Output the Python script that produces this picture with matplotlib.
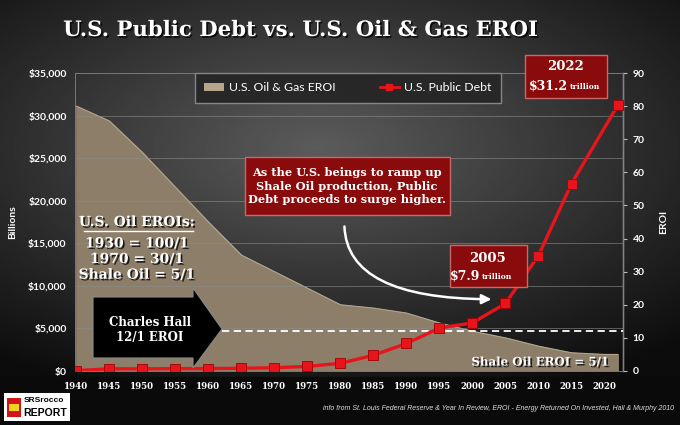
import numpy as np
import matplotlib.pyplot as plt
import matplotlib.patheffects as pe
from matplotlib.patches import Rectangle, Polygon, Patch
from matplotlib.lines import Line2D

# -----------------------------
# DATA
# -----------------------------

debt_years = [1940, 1945, 1950, 1955, 1960, 1965, 1970, 1975, 1980,
              1985, 1990, 1995, 2000, 2005, 2010, 2015, 2022]
debt_billions = [51, 260, 257, 274, 290, 322, 381, 542, 908,
                 1850, 3230, 5050, 5650, 7930, 13560, 22000, 31200]

eroi_years = [1940, 1945, 1950, 1955, 1960, 1965, 1970, 1975, 1980,
              1985, 1990, 1995, 2000, 2005, 2010, 2015, 2020, 2022]
eroi_values = [80, 75.5, 66, 55.5, 45, 35, 30, 25, 20,
               19, 17.5, 14.5, 12, 10, 7.5, 5.5, 5, 5]

hall_eroi = 12
x_ticks = list(range(1940, 2021, 5))
left_ticks = list(range(0, 35001, 5000))
right_ticks = list(range(0, 91, 10))

# -----------------------------
# STYLE
# -----------------------------

RED = "#e8141c"
TAN = "#8d7e6a"
BOX_RED = "#8a0b0b"
SLAB = "DejaVu Serif"
SANS = "Lato"

W, H = 680, 425


def px(x, y):
    # pixel position -> figure fraction
    return x / W, 1 - y / H


shadow = [pe.withSimplePatchShadow(offset=(1.2, -1.2), shadow_rgbFace="black", alpha=0.8)]

fig = plt.figure(figsize=(6.8, 4.25), dpi=100)

# -----------------------------
# BACKGROUND
# -----------------------------

bg = fig.add_axes([0, 0, 1, 1], zorder=-5)
gx, gy = np.meshgrid(np.linspace(0, 1, 340), np.linspace(0, 1, 212))
r = np.sqrt(((gx - 0.47) / 0.75) ** 2 + ((gy - 0.35) / 0.6) ** 2)
shade = np.clip(0.36 - 0.3 * r, 0.05, 0.4)
shade[gy > 0.89] = 0.04
bg.imshow(shade, cmap="gray", vmin=0, vmax=1, aspect="auto", extent=[0, 1, 1, 0])
bg.set_xlim(0, 1)
bg.set_ylim(1, 0)
bg.axis("off")

# -----------------------------
# MAIN AXES
# -----------------------------

ax = fig.add_axes([75 / W, 1 - 371 / H, 548 / W, 298 / H])
ax.set_facecolor("none")
ax2 = ax.twinx()

ax2.fill_between(eroi_years, eroi_values, color=TAN, zorder=1)
ax2.plot(eroi_years, eroi_values, color="#b3a48c", lw=0.8, zorder=2)
ax2.hlines(hall_eroi, 1962, 2023, colors="white", linestyles=(0, (4, 2.5)), lw=1.3, zorder=3)
ax2.set_ylim(0, 90)
ax2.set_yticks(right_ticks)

ax.set_zorder(ax2.get_zorder() + 1)
ax.plot(debt_years, debt_billions, color=RED, lw=2.4, marker="s", ms=7,
        mfc=RED, mec="#a00000", mew=0.6, zorder=5)
ax.set_ylim(0, 35000)
ax.set_xlim(1939.8, 2022.8)
ax.set_yticks(left_ticks)
ax.set_yticklabels([f"${v:,}" for v in left_ticks])
ax.set_xticks(x_ticks)
ax.grid(axis="y", color="#8a8a8a", lw=0.6, alpha=0.7)
ax.set_axisbelow(True)

for a in (ax, ax2):
    for s in a.spines.values():
        s.set_color("#777777")
        s.set_linewidth(0.6)
ax2.spines["right"].set_color("#bbbbbb")
ax2.spines["right"].set_linewidth(1)

ax.tick_params(axis="x", length=0, colors="white", pad=8)
ax.tick_params(axis="y", length=0, colors="white", pad=6)
ax2.tick_params(axis="y", length=3, colors="white", pad=4, color="#bbbbbb")
for lab in ax.get_xticklabels():
    lab.set_fontfamily(SLAB)
    lab.set_fontweight("bold")
    lab.set_fontsize(6.2)
for lab in ax.get_yticklabels() + ax2.get_yticklabels():
    lab.set_fontfamily(SANS)
    lab.set_fontweight("bold")
    lab.set_fontsize(7.5)

ax.set_ylabel("Billions", color="white", fontsize=7.5, fontweight="bold", family=SANS, labelpad=8)
ax2.set_ylabel("EROI", color="white", fontsize=7.5, fontweight="bold", family=SANS, labelpad=10)

# legend
handles = [Patch(facecolor="#b5a58a", edgecolor="none"),
           Line2D([0], [0], color=RED, lw=2, marker="s", ms=5)]
leg = ax.legend(handles, ["U.S. Oil & Gas EROI", "U.S. Public Debt"], ncol=2,
                loc="center", bbox_to_anchor=(0.498, 0.95), frameon=True,
                fancybox=False, facecolor="#262626", edgecolor="#8a8a8a",
                prop={"family": SANS, "size": 8.8}, labelcolor="white",
                handlelength=1.6, columnspacing=3.6, borderpad=0.75, handletextpad=0.4)
leg.get_frame().set_alpha(0.95)
leg.set_zorder(10)

# -----------------------------
# ANNOTATIONS
# -----------------------------

fig.text(*px(301, 30), "U.S. Public Debt vs. U.S. Oil & Gas EROI", ha="center", va="center",
         color="white", fontsize=15.3, fontweight="bold", family=SLAB, path_effects=shadow)


def red_box(x0, y0, x1, y1):
    bx, by = px(x0, y1)
    fig.add_artist(Rectangle((bx, by), (x1 - x0) / W, (y1 - y0) / H, transform=fig.transFigure,
                             facecolor=BOX_RED, edgecolor="#c46a6a", lw=1, zorder=20))


red_box(525, 55, 607, 98)
fig.text(*px(566, 67), "2022", ha="center", va="center", color="white",
         fontsize=9.5, fontweight="bold", family=SLAB, zorder=21)
fig.text(*px(568, 86), "$31.2", ha="right", va="center", color="white",
         fontsize=9, fontweight="bold", family=SLAB, zorder=21)
fig.text(*px(570, 87), "trillion", ha="left", va="center", color="white",
         fontsize=5.5, fontweight="bold", family=SLAB, zorder=21)

red_box(245, 157, 450, 215)
fig.text(*px(347, 186), "As the U.S. beings to ramp up\nShale Oil production, Public\nDebt proceeds to surge higher.",
         ha="center", va="center", color="white", fontsize=8.2, fontweight="bold",
         family=SLAB, linespacing=1.25, zorder=21)

red_box(450, 245, 527, 287)
fig.text(*px(488, 258), "2005", ha="center", va="center", color="white",
         fontsize=9.5, fontweight="bold", family=SLAB, zorder=21)
fig.text(*px(480, 276), "$7.9", ha="right", va="center", color="white",
         fontsize=9, fontweight="bold", family=SLAB, zorder=21)
fig.text(*px(482, 277), "trillion", ha="left", va="center", color="white",
         fontsize=5.5, fontweight="bold", family=SLAB, zorder=21)

# curved arrow to the 2005 debt point
ax.annotate("", xy=(2003.3, debt_billions[13] + 500), xytext=(1980.6, 17300),
            arrowprops=dict(arrowstyle="-|>", color="white", lw=1.8, mutation_scale=14,
                            connectionstyle="angle3,angleA=-90,angleB=0"), zorder=8)

# EROI notes
fig.text(*px(137, 222), "U.S. Oil EROIs:", ha="center", va="center", color="white",
         fontsize=10, fontweight="bold", family=SLAB, path_effects=shadow, zorder=9)
fig.add_artist(Line2D([84 / W, 193 / W], [1 - 231 / H] * 2, color="white", lw=1,
                      transform=fig.transFigure, zorder=9))
fig.text(*px(137, 259), "1930 = 100/1\n1970 = 30/1\nShale Oil = 5/1", ha="center", va="center",
         color="white", fontsize=10, fontweight="bold", family=SLAB, linespacing=1.15,
         path_effects=shadow, zorder=9)

# Charles Hall arrow
arrow_px = [(93, 297), (193, 297), (193, 288), (222, 329), (193, 368), (193, 358), (93, 358)]
fig.add_artist(Polygon([px(x, y) for x, y in arrow_px], closed=True, transform=fig.transFigure,
                       facecolor="black", edgecolor="#8a8a8a", lw=0.8, zorder=9))
fig.text(*px(150, 330), "Charles Hall\n12/1 EROI", ha="center", va="center", color="white",
         fontsize=8.5, fontweight="bold", family=SLAB, linespacing=1.3, zorder=10)

fig.text(*px(540, 362), "Shale Oil EROI = 5/1", ha="center", va="center", color="white",
         fontsize=8.5, fontweight="bold", family=SLAB, path_effects=shadow, zorder=9)

# footnote
fig.text(*px(674, 408),
         "info from St. Louis Federal Reserve & Year In Review, EROI - Energy Returned On Invested, Hall & Murphy 2010",
         ha="right", va="center", color="#dddddd", fontsize=5, style="italic", family="Liberation Sans")

# logo
fig.add_artist(Rectangle(px(4, 421), 66 / W, 28 / H, transform=fig.transFigure,
                         facecolor="white", edgecolor="none", zorder=20))
fig.add_artist(Rectangle(px(7, 417), 14 / W, 19 / H, transform=fig.transFigure,
                         facecolor="#d0161b", edgecolor="none", zorder=21))
fig.add_artist(Rectangle(px(9, 411), 10 / W, 7 / H, transform=fig.transFigure,
                         facecolor="#f2d21b", edgecolor="none", zorder=22))
fig.text(*px(24, 401), "SRSrocco", ha="left", va="center", color="black",
         fontsize=6, fontweight="bold", family="Liberation Sans", zorder=23)
fig.text(*px(23, 413), "REPORT", ha="left", va="center", color="black",
         fontsize=7.6, fontweight="bold", family="Liberation Sans", zorder=23)

plt.savefig("out.png", dpi=100)
